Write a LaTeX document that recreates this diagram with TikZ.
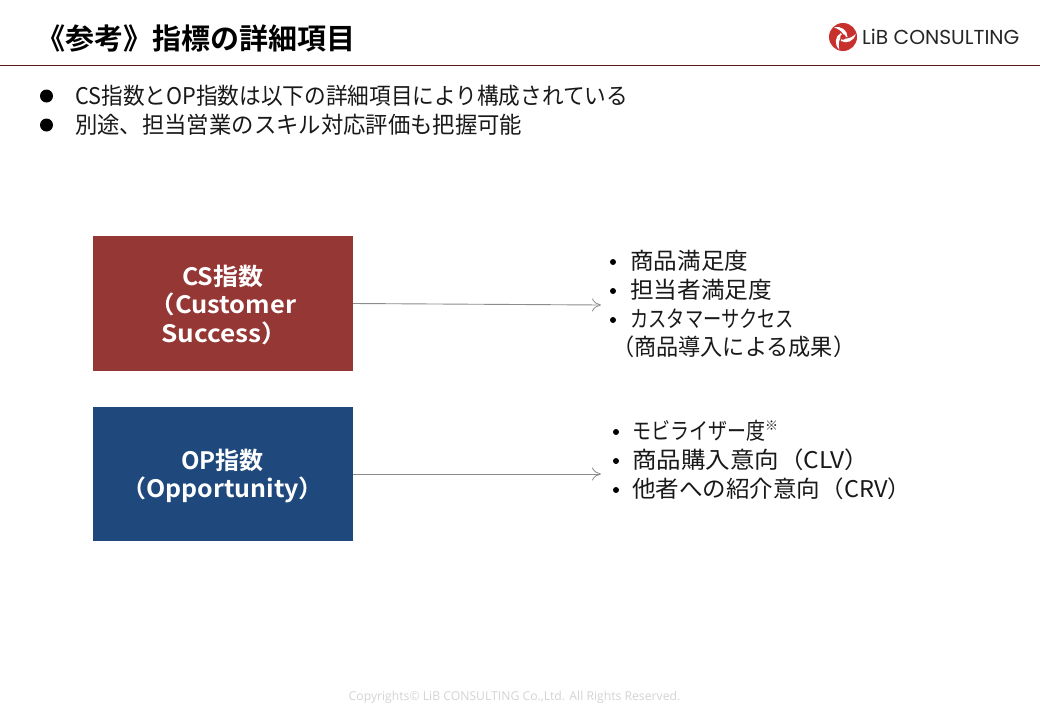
\documentclass[tikz,border=0pt]{standalone}
\usepackage{fontspec}
\usepackage{graphicx}
\setmainfont{Noto Sans CJK JP}
\newfontfamily\jpbold{Noto Sans CJK JP Bold}
\newfontfamily\logofont{Poppins}
\newfontfamily\footfont{Open Sans}
\definecolor{csred}{HTML}{953735}
\definecolor{opblue}{HTML}{1F497D}
\definecolor{rulecol}{HTML}{5A2018}
\definecolor{arrowgray}{HTML}{8C8C8C}
\definecolor{footgray}{HTML}{D4D4D4}
\definecolor{logored}{HTML}{C8302E}
\usetikzlibrary{arrows.meta}
\newcommand{\fitw}[2]{\resizebox{#1}{\height}{#2}}
\tikzset{
  body/.style={anchor=west,inner sep=0pt,font=\fontsize{23}{23}\selectfont,text=black!90},
  box/.style={draw=none,minimum width=260pt,inner sep=0pt},
  boxtext/.style={inner sep=0pt,text=white,font=\jpbold\fontsize{24}{29}\selectfont},
  dot/.style={circle,fill=black,inner sep=0pt},
  conn/.style={draw=arrowgray,line width=0.9pt,-{To[length=9pt,width=13pt,line width=0.8pt]}},
}
\begin{document}
\begin{tikzpicture}[x=1pt,y=-1pt]
\useasboundingbox (0,0) rectangle (1040,720);
\fill[white] (0,0) rectangle (1040,720);
\node[anchor=west,inner sep=0pt,font=\jpbold\fontsize{29}{29}\selectfont] (title) at (36,38) {《参考》指標の詳細項目};
\draw[rulecol,line width=1pt] (0,65.5) -- (1040,65.5);
% logo
\begin{scope}[shift={(843,37)}]
\fill[logored] (0,0) circle (14);
\foreach \a in {0,120,240}{
  \fill[white,rotate=\a] (4.5,0) .. controls (4.5,-7) and (-2,-11.5) .. (-9,-9.5) .. controls (-4,-8) and (0.5,-5) .. (1.5,0.5) -- cycle;
}
\fill[logored] (0,0) circle (2.8);
\end{scope}
\node[anchor=west,inner sep=0pt,font=\logofont\fontsize{20.2}{20}\selectfont,text=black!85] (logo) at (862,37) {LiB CONSULTING};
% bullets
\node[dot,minimum size=13pt] (b1) at (46.5,96) {};
\node[dot,minimum size=13pt] (b2) at (46.5,125) {};
\node[body] (l1) at (75,96) {\fitw{553pt}{CS指数とOP指数は以下の詳細項目により構成されている}};
\node[body] (l2) at (75,125) {\fitw{447pt}{別途、担当営業のスキル対応評価も把握可能}};
% boxes
\node[box,fill=csred,minimum height=135pt] (cs) at (223,303.5) {};
\node[boxtext,anchor=west] (cs1) at (182,276) {\scalebox{1.04}[1]{CS指数}};
\node[boxtext,anchor=west] (cs2) at (149.5,304.5) {\scalebox{1.06}[1]{（Customer}};
\node[boxtext,anchor=west] (cs3) at (161,333) {\scalebox{1.09}[1]{Success）}};
\node[box,fill=opblue,minimum height=134pt] (op) at (223,474) {};
\node[boxtext] (op1) at (222.5,460) {OP指数};
\node[boxtext] (op2) at (222.5,489.5) {\scalebox{1.04}[1]{（Opportunity）}};
% right lists
\coordinate (r1) at (601,305);
\coordinate (r2) at (601,474);
\draw[conn] (cs.east) -- (r1);
\draw[conn] (op.east) -- (r2);
\foreach \n/\x/\y in {a/613/262,b/613/291,c/613/320,d/616/432,e/616/461,f/616/490}{
  \node[dot,minimum size=6pt] (\n) at (\x,\y) {};
}
\node[body] (t1) at (630,261) {\fitw{118pt}{商品満足度}};
\node[body] (t2) at (630,290) {\fitw{142pt}{担当者満足度}};
\node[body] (t3) at (630,319) {\fitw{164pt}{カスタマーサクセス}};
\node[body] (t4) at (612,347) {\fitw{243pt}{（商品導入による成果）}};
\node[body] (t5) at (632,431) {\fitw{133pt}{モビライザー度}\raisebox{9pt}{\fontsize{13}{13}\selectfont ※}};
\node[body] (t6) at (632,460) {\fitw{237pt}{商品購入意向（CLV）}};
\node[body] (t7) at (632,489) {\fitw{279pt}{他者への紹介意向（CRV）}};
\node[anchor=center,inner sep=0pt,text=footgray,font=\footfont\fontsize{12.2}{12}\selectfont] (foot) at (514.5,697) {Copyrights© LiB CONSULTING Co.,Ltd. All Rights Reserved.};
\end{tikzpicture}
\end{document}
